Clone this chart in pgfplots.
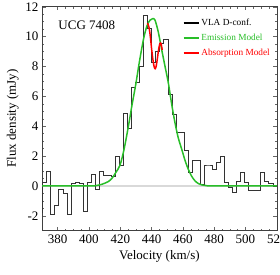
\documentclass[border=0pt]{standalone}
\usepackage{pgfplots}
\pgfplotsset{compat=1.18}
\usepackage{fontspec}
\setmainfont{Liberation Serif}
\definecolor{mgreen}{RGB}{40,190,40}
\definecolor{mred}{RGB}{255,0,0}
\begin{document}
\begin{tikzpicture}
\begin{axis}[
  name=ax,
  scale only axis, width=234.8pt, height=224pt,
  xmin=370, xmax=520, ymin=-3, ymax=12,
  xtick={380,400,...,520}, ytick={-2,0,...,12},
  minor x tick num=3, minor y tick num=3,
  tick align=inside, major tick length=3.5pt, minor tick length=2pt,
  axis line style={line width=0.5pt, black!75},
  every tick/.style={black!60, line width=0.4pt},
  xlabel={Velocity (km/s)}, ylabel={Flux density (mJy)},
  label style={font=\fontsize{13}{15}\selectfont},
  tick label style={font=\fontsize{13}{15}\selectfont},
  /pgf/number format/assume math mode=true,
  /pgf/number format/1000 sep={},
  xticklabel style={yshift=-1pt},
  legend style={at={(rel axis cs:0.599,0.955)}, anchor=north west, draw=none, fill=none,
    font=\fontsize{9.3}{11}\selectfont, row sep=3pt, inner sep=0pt},
  legend cell align=left,
  legend image code/.code={\draw[#1] (0pt,0pt) -- (15pt,0pt);},
]
\addplot[black!15, line width=1.6pt, forget plot] coordinates {(370,0) (520,0)};
\addplot[black!80, line width=0.6pt, const plot mark left, forget plot] coordinates {
(367.82,-1.75) (370.40,0.27) (372.98,0.96) (375.56,-1.89) (378.14,-1.29)
(380.72,-0.25) (383.30,-0.50) (385.88,-1.89) (388.46,0.20) (391.04,0.27)
(393.62,0.20) (396.20,-1.67) (398.78,0.25) (401.36,0.78) (403.94,-0.20)
(406.52,1.00) (409.10,0.73) (411.68,0.71) (414.26,0.67) (416.84,1.95)
(419.42,1.38) (422.00,4.89) (424.58,3.89) (427.16,6.60) (429.74,6.93)
(432.32,8.00) (434.90,11.40) (437.48,10.56) (440.06,8.27) (442.64,9.00)
(445.22,9.56) (447.80,9.82) (450.38,6.16) (452.96,4.82) (455.54,3.56)
(458.12,3.56) (460.70,2.40) (463.28,0.89) (465.86,1.71) (468.44,1.71)
(471.02,0.11) (473.60,1.40) (476.18,1.40) (478.76,1.11) (481.34,1.56)
(483.92,2.00) (486.50,0.27) (489.08,-0.11) (491.66,-0.44) (494.24,0.33)
(496.82,0.89) (499.40,0.27) (501.98,-0.27) (504.56,-0.27) (507.14,-0.27)
(509.72,0.93) (512.30,0.33) (514.88,0.18) (517.46,0.00) (520.04,0.00)
};
\addplot[mgreen, line width=1.5pt, smooth, forget plot] coordinates {
(370,0) (400,0) (405,0.03) (408,0.1) (412.4,0.29) (415,0.55) (417.1,0.89)
(419.8,1.38) (422.4,2.44) (425.2,4.0) (427.3,5.3) (429.9,6.8) (432.2,8.3)
(434.8,9.8) (437,10.7) (439,11.1) (440.7,11.2) (442.2,11.1) (444.3,10.3)
(446.5,9.1) (448.6,8.0) (450.7,6.9) (452.8,5.5) (455,4.2) (457.1,3.2)
(459.3,2.44) (461.4,1.7) (463.5,1.1) (465.6,0.65) (467.8,0.33) (470,0.15)
(472,0.07) (475,0.02) (480,0) (520,0)
};
\addplot[mred, line width=1.5pt, smooth, tension=0.6, forget plot] coordinates {
(437.4,10.9) (438.4,10.6) (439.2,10.0) (440.0,9.2) (440.8,8.5) (441.6,8.0) (442.3,7.85)
(443.0,8.05) (443.8,8.6) (444.6,9.2) (445.4,9.55) (446.1,9.5) (446.8,9.1)
};
\addlegendimage{black, line width=1.2pt}
\addlegendentry{VLA D-conf.}
\addlegendimage{mgreen, line width=1.5pt}
\addlegendentry{\textcolor{mgreen}{Emission Model}}
\addlegendimage{mred, line width=1.5pt}
\addlegendentry{\textcolor{mred}{Absorption Model}}
\node[anchor=west, font=\fontsize{13}{15}\selectfont] at (rel axis cs:0.055,0.918) {UCG 7408};
\end{axis}
\pgfresetboundingbox
\path[use as bounding box] ([xshift=-42pt,yshift=-43.3pt]ax.south west) rectangle ([xshift=3.2pt,yshift=6.7pt]ax.north east);
\end{tikzpicture}
\end{document}
